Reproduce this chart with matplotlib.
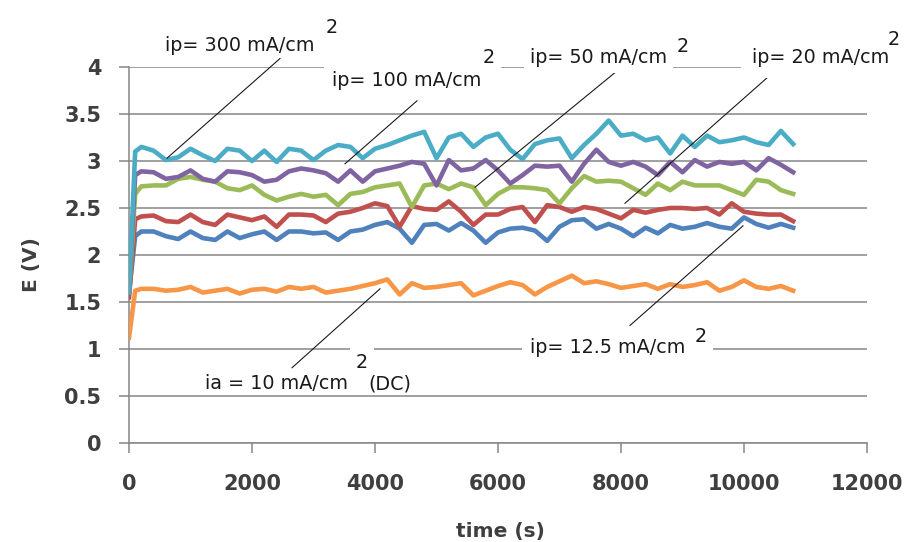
import numpy as np
import matplotlib.pyplot as plt
from matplotlib.ticker import FuncFormatter

# sampling times (s): start, ramp point, then every 200 s up to 10800 s
time = np.concatenate(([0, 100], np.arange(200, 10801, 200)))

# cell potential E (V) for each pulse current density
e_300 = [1.60, 3.10, 3.15, 3.11, 3.01, 3.04, 3.13, 3.06, 3.00, 3.13, 3.11, 3.00, 3.11, 2.99,
         3.13, 3.11, 3.01, 3.11, 3.17, 3.15, 3.03, 3.13, 3.17, 3.22, 3.27, 3.31, 3.03, 3.25,
         3.29, 3.15, 3.25, 3.29, 3.12, 3.02, 3.18, 3.22, 3.24, 3.03, 3.17, 3.29, 3.43, 3.27,
         3.29, 3.22, 3.25, 3.08, 3.27, 3.15, 3.27, 3.20, 3.22, 3.25, 3.20, 3.17, 3.32, 3.18]
e_100 = [1.60, 2.85, 2.89, 2.88, 2.81, 2.83, 2.90, 2.81, 2.78, 2.89, 2.88, 2.85, 2.78, 2.80,
         2.89, 2.92, 2.90, 2.87, 2.78, 2.90, 2.78, 2.89, 2.92, 2.95, 2.99, 2.97, 2.74, 3.01,
         2.90, 2.92, 3.01, 2.90, 2.76, 2.85, 2.95, 2.94, 2.95, 2.78, 2.97, 3.12, 2.99, 2.95,
         2.99, 2.94, 2.85, 2.99, 2.88, 3.01, 2.94, 2.99, 2.97, 2.99, 2.90, 3.03, 2.96, 2.88]
e_50 = [1.60, 2.65, 2.73, 2.74, 2.74, 2.81, 2.83, 2.80, 2.78, 2.71, 2.69, 2.74, 2.64, 2.58,
        2.62, 2.65, 2.62, 2.64, 2.53, 2.65, 2.67, 2.72, 2.74, 2.76, 2.51, 2.74, 2.76, 2.70,
        2.76, 2.72, 2.53, 2.65, 2.72, 2.72, 2.71, 2.69, 2.55, 2.71, 2.84, 2.78, 2.79, 2.78,
        2.71, 2.64, 2.76, 2.69, 2.78, 2.74, 2.74, 2.74, 2.69, 2.64, 2.80, 2.78, 2.69, 2.65]
e_20 = [1.55, 2.38, 2.41, 2.42, 2.36, 2.35, 2.43, 2.35, 2.32, 2.43, 2.40, 2.37, 2.41, 2.30,
        2.43, 2.43, 2.42, 2.35, 2.44, 2.46, 2.50, 2.55, 2.52, 2.30, 2.52, 2.49, 2.48, 2.57,
        2.46, 2.32, 2.43, 2.43, 2.49, 2.51, 2.35, 2.53, 2.51, 2.46, 2.51, 2.49, 2.44, 2.39,
        2.48, 2.45, 2.48, 2.50, 2.50, 2.49, 2.50, 2.43, 2.55, 2.46, 2.44, 2.43, 2.43, 2.36]
e_12_5 = [1.60, 2.20, 2.25, 2.25, 2.20, 2.17, 2.25, 2.18, 2.16, 2.25, 2.18, 2.22, 2.25, 2.16,
          2.25, 2.25, 2.23, 2.24, 2.16, 2.25, 2.27, 2.32, 2.35, 2.28, 2.13, 2.32, 2.33, 2.26,
          2.34, 2.26, 2.13, 2.24, 2.28, 2.29, 2.26, 2.15, 2.30, 2.37, 2.38, 2.28, 2.33, 2.28,
          2.20, 2.29, 2.23, 2.32, 2.28, 2.30, 2.34, 2.30, 2.28, 2.40, 2.33, 2.29, 2.33, 2.29]
e_dc = [1.12, 1.62, 1.64, 1.64, 1.62, 1.63, 1.66, 1.60, 1.62, 1.64, 1.59, 1.63, 1.64, 1.61,
        1.66, 1.64, 1.66, 1.60, 1.62, 1.64, 1.67, 1.70, 1.74, 1.58, 1.70, 1.65, 1.66, 1.68,
        1.70, 1.57, 1.62, 1.67, 1.71, 1.68, 1.58, 1.66, 1.72, 1.78, 1.70, 1.72, 1.69, 1.65,
        1.67, 1.69, 1.64, 1.69, 1.66, 1.68, 1.71, 1.62, 1.66, 1.73, 1.66, 1.64, 1.67, 1.62]

grid_col = '#868686'
text_col = '#3f3f3f'

fig = plt.figure(figsize=(9.08, 5.42), dpi=100)
ax = fig.add_axes([0.1421, 0.1827, 0.8127, 0.6937])

series = [(e_12_5, '#4F81BD'), (e_20, '#C0504D'), (e_50, '#9BBB59'),
          (e_100, '#8064A2'), (e_300, '#4BACC6'), (e_dc, '#F79646')]
for vals, col in series:
    ax.plot(time, vals, color=col, lw=3.3, solid_joinstyle='round', zorder=3)

ax.set_xlim(0, 12000)
ax.set_ylim(0, 4)
ax.set_xticks(np.arange(0, 12001, 2000))
ax.set_yticks(np.arange(0, 4.01, 0.5))
ax.yaxis.set_major_formatter(FuncFormatter(lambda v, p: '{:g}'.format(v)))
ax.yaxis.grid(True, color=grid_col, lw=1.1, zorder=0)
ax.set_axisbelow(True)
for s in ['top', 'right']:
    ax.spines[s].set_visible(False)
for s in ['left', 'bottom']:
    ax.spines[s].set_color(grid_col)
    ax.spines[s].set_linewidth(1.1)
ax.tick_params(axis='both', direction='out', length=7, width=1.1, color=grid_col,
               labelsize=15, labelcolor=text_col)
ax.tick_params(axis='x', pad=15)
ax.tick_params(axis='y', pad=13)
for lab in ax.get_xticklabels() + ax.get_yticklabels():
    lab.set_fontweight('bold')

fig.text(500 / 908, 1 - 531 / 542, 'time (s)', ha='center', va='center',
         fontsize=14.5, fontweight='bold', color=text_col)
fig.text(31 / 908, 1 - 265 / 542, 'E (V)', ha='center', va='center', rotation=90,
         fontsize=14.5, fontweight='bold', color=text_col)

# leader lines from the labels to the curves
leaders = [((2455, 4.09), (618, 3.03)), ((4683, 3.64), (3512, 2.97)),
           ((7902, 3.94), (5626, 2.72)), ((10471, 3.94), (8065, 2.55)),
           ((9984, 2.31), (8146, 1.25)), ((4081, 1.64), (2650, 0.80))]
for (x0, y0), (x1, y1) in leaders:
    ax.plot([x0, x1], [y0, y1], color='#1a1a1a', lw=0.8, zorder=4, clip_on=False)

box = dict(facecolor='white', edgecolor='none', pad=4)
lab_kw = dict(fontsize=13.8, color='#1a1a1a', va='center', ha='left', zorder=5, clip_on=False)
sup_kw = dict(lab_kw, ha='center')
ax.text(585, 4.23, 'ip= 300 mA/cm', **lab_kw)
ax.text(3301, 4.42, '2', **sup_kw)
ax.text(3301, 3.86, 'ip= 100 mA/cm', bbox=dict(facecolor='white', edgecolor='none', pad=6), **lab_kw)
ax.text(5854, 4.10, '2', bbox=box, **sup_kw)
ax.text(6520, 4.10, 'ip= 50 mA/cm', bbox=box, **lab_kw)
ax.text(9008, 4.22, '2', **sup_kw)
ax.text(10130, 4.10, 'ip= 20 mA/cm', bbox=dict(facecolor='white', edgecolor='none', pad=8), **lab_kw)
ax.text(12440, 4.29, '2', **sup_kw)
ax.text(6520, 1.02, 'ip= 12.5 mA/cm', bbox=dict(facecolor='white', edgecolor='none', pad=6), **lab_kw)
ax.text(9301, 1.13, '2', bbox=box, **sup_kw)
ax.text(1236, 0.63, 'ia = 10 mA/cm', **lab_kw)
ax.text(3789, 0.86, '2', bbox=box, **sup_kw)
ax.text(3886, 0.63, '(DC)', **dict(lab_kw, zorder=6))

fig.savefig('out.png', dpi=100)
